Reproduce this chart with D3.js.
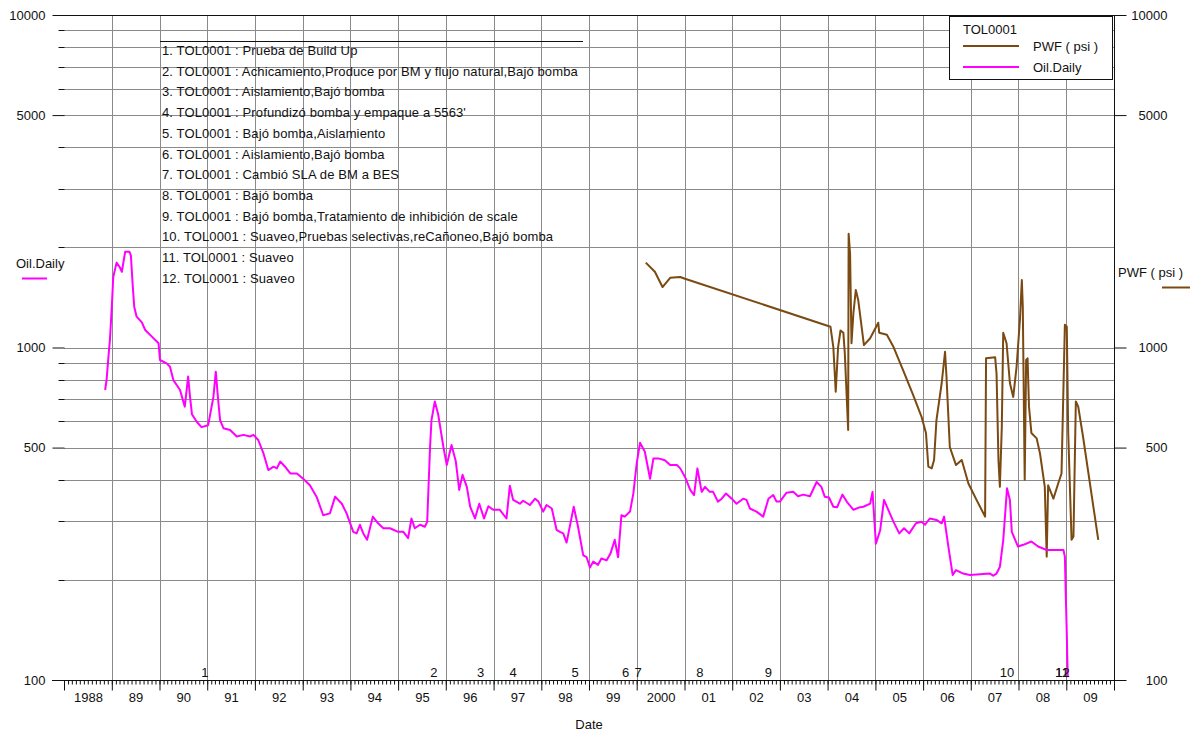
<!DOCTYPE html>
<html>
<head>
<meta charset="utf-8">
<script src="https://cdn.jsdelivr.net/npm/d3@7"></script>
<style>
  body { margin: 0; background: #fff; }
  text { font-family: "Liberation Sans", Arial, sans-serif; font-size: 13px; fill: #111; }
</style>
</head>
<body>
<svg id="chart" width="1198" height="733"></svg>
<script>
// Well TOL0001 - daily oil rate and flowing bottom-hole pressure (decimal years)
const oilDates = [1988.86,1988.89,1988.93,1988.96,1989.00,1989.03,1989.10,1989.17,1989.21,1989.28,1989.37,1989.40,1989.44,1989.47,1989.52,1989.63,1989.70,1989.84,1989.98,
  1990.01,1990.15,1990.22,1990.29,1990.43,1990.53,1990.60,1990.64,1990.68,1990.78,1990.88,1991.02,1991.13,1991.18,1991.23,1991.27,1991.34,1991.48,1991.62,1991.76,1991.90,1991.97,
  1992.07,1992.18,1992.28,1992.39,1992.46,1992.53,1992.63,1992.74,1992.88,1993.01,1993.15,1993.29,1993.43,1993.57,1993.68,1993.82,1993.92,
  1994.06,1994.13,1994.20,1994.27,1994.35,1994.47,1994.58,1994.69,1994.83,1994.90,1995.00,1995.11,1995.21,1995.28,1995.35,1995.46,1995.56,1995.61,
  1995.67,1995.70,1995.77,1995.84,1995.95,1996.02,1996.12,1996.21,1996.28,1996.35,1996.44,1996.51,1996.61,1996.70,1996.80,1996.89,1996.99,
  1997.13,1997.27,1997.34,1997.41,1997.55,1997.62,1997.76,1997.87,1997.94,1998.04,1998.11,1998.22,1998.32,1998.39,1998.46,1998.53,1998.68,1998.77,1998.88,1998.95,
  1999.02,1999.09,1999.19,1999.26,1999.37,1999.45,1999.54,1999.61,1999.68,1999.75,1999.86,1999.93,2000.00,2000.07,2000.17,2000.28,2000.35,2000.45,2000.59,2000.70,2000.84,2000.91,
  2001.01,2001.12,2001.20,2001.27,2001.36,2001.43,2001.53,2001.60,2001.70,2001.78,2001.87,2001.99,2002.09,2002.23,2002.30,2002.37,2002.51,2002.65,2002.76,2002.86,2002.93,
  2003.00,2003.14,2003.28,2003.38,2003.49,2003.63,2003.77,2003.87,2003.94,2004.03,2004.12,2004.20,2004.31,2004.40,2004.54,2004.68,2004.75,2004.89,2004.94,
  2005.01,2005.10,2005.18,2005.27,2005.38,2005.50,2005.60,2005.71,2005.85,2005.97,2006.04,2006.14,2006.28,2006.39,2006.44,2006.53,2006.62,2006.69,2006.84,2006.98,
  2007.40,2007.47,2007.54,2007.61,2007.68,2007.76,2007.82,2007.86,2007.99,2008.10,2008.27,2008.41,2008.59,2008.94,2008.97,2008.99,2009.01,2009.03];
const oilValues = [745,798,940,1053,1327,1630,1800,1740,1690,1940,1940,1890,1520,1327,1238,1190,1129,1078,1030,
  917,896,875,798,745,664,818,710,630,598,576,584,710,846,695,605,572,565,540,546,540,546,
  527,480,428,438,433,454,438,418,418,403,385,356,313,317,356,339,317,
  279,276,293,276,264,310,296,286,286,283,279,279,267,306,286,293,289,299,
  502,605,688,630,502,443,509,454,373,414,381,332,306,339,306,333,325,
  325,306,384,348,339,346,336,351,344,321,336,328,283,279,276,259,332,289,237,234,
  218,227,222,232,229,240,264,234,313,310,321,364,448,517,486,403,464,464,458,443,443,433,
  408,373,360,433,368,381,368,368,344,351,364,351,339,351,348,328,321,310,351,360,344,
  344,366,368,357,361,357,394,381,356,354,332,331,361,344,325,331,332,339,368,
  257,282,348,325,299,276,286,276,296,299,293,306,303,296,310,252,207,214,209,207,
  209,206,209,219,263,377,348,279,252,255,261,252,246,246,235,178,138,102];

const pwfDates = [2000.19,2000.38,2000.54,2000.70,2000.91,2001.01,2004.06,2004.12,2004.17,2004.22,2004.27,2004.33,2004.36,2004.43,2004.44,2004.47,2004.50,2004.54,2004.59,2004.64,2004.76,2004.89,
  2005.06,2005.08,2005.24,2005.38,2005.58,2005.79,2005.97,2006.06,2006.11,2006.18,2006.23,2006.28,2006.39,2006.46,2006.49,2006.56,2006.69,2006.81,2006.95,
  2007.12,2007.30,2007.32,2007.51,2007.54,2007.58,2007.61,2007.65,2007.68,2007.75,2007.82,2007.89,2007.96,2008.03,2008.07,2008.09,2008.13,2008.16,2008.19,2008.22,2008.27,2008.38,2008.45,2008.55,2008.59,2008.62,2008.73,2008.83,2008.90,2008.97,
  2009.01,2009.04,2009.11,2009.15,2009.20,2009.25,2009.35,2009.67];
const pwfValues = [1800,1690,1520,1620,1630,1610,1155,1003,736,1003,1125,1107,961,565,2200,1920,1030,1270,1489,1390,1017,1066,
  1187,1107,1093,1003,855,720,617,553,438,433,459,605,782,971,818,502,443,459,390,
  348,310,928,935,834,459,381,576,1107,1030,782,710,875,1210,1596,1327,400,917,928,664,553,533,480,381,235,385,351,390,418,1170,
  1155,553,264,270,688,664,540,264];

// Well events marked along the time axis
const eventLabels = ["1","2","3","4","5","6","7","8","9","10","11","12"];
const eventDates = [1990.95,1995.75,1996.73,1997.41,1998.71,1999.77,2000.03,2001.32,2002.76,2007.76,2008.91,2008.92];
const eventNotes = [
  "1. TOL0001 : Prueba de Build Up",
  "2. TOL0001 : Achicamiento,Produce por BM y flujo natural,Bajó bomba",
  "3. TOL0001 : Aislamiento,Bajó bomba",
  "4. TOL0001 : Profundizó bomba y empaque a 5563'",
  "5. TOL0001 : Bajó bomba,Aislamiento",
  "6. TOL0001 : Aislamiento,Bajó  bomba",
  "7. TOL0001 : Cambió SLA de BM a BES",
  "8. TOL0001 : Bajó bomba",
  "9. TOL0001 : Bajó bomba,Tratamiento de inhibición de scale",
  "10. TOL0001 : Suaveo,Pruebas selectivas,reCañoneo,Bajó bomba",
  "11. TOL0001 : Suaveo",
  "12. TOL0001 : Suaveo"
];

const yLabelTicks = [100, 500, 1000, 5000, 10000];
const yGridValues = [200,300,400,500,600,700,800,900,1000,2000,3000,4000,5000,6000,7000,8000,9000];
const firstYear = 1988, lastYear = 2010;

const OIL_COLOR = "#ff00ff";
const PWF_COLOR = "#7a4a12";
const GRID_COLOR = "#8a8a8a";

const toDate = t => {
  const yr = Math.floor(t);
  const a = new Date(yr, 0, 1), b = new Date(yr + 1, 0, 1);
  return new Date(+a + (t - yr) * (b - a));
};

const L = 64, R = 1114, T = 15, B = 680;
const svg = d3.select("#chart");

const x = d3.scaleTime().domain([new Date(firstYear, 0, 1), new Date(lastYear, 0, 1)]).range([L, R]);
const y = d3.scaleLog().domain([100, 10000]).range([B, T]);

const yearStarts = d3.timeYear.range(new Date(firstYear, 0, 1), new Date(lastYear, 0, 2));
const yearMids = d3.range(firstYear, lastYear).map(yr => new Date(yr, 6, 2));

// grid
const grid = svg.append("g").attr("stroke", GRID_COLOR).attr("stroke-width", 1);
grid.selectAll("line.v").data(yearStarts.slice(1, -1)).join("line")
  .attr("x1", d => Math.round(x(d)) + 0.5).attr("x2", d => Math.round(x(d)) + 0.5)
  .attr("y1", T).attr("y2", B);
grid.selectAll("line.h").data(yGridValues).join("line")
  .attr("x1", L).attr("x2", R)
  .attr("y1", d => Math.round(y(d)) + 0.5).attr("y2", d => Math.round(y(d)) + 0.5);

// event notes block
const notes = svg.append("g");
notes.append("line").attr("x1", 160).attr("x2", 583).attr("y1", 41.5).attr("y2", 41.5)
  .attr("stroke", "#111").attr("stroke-width", 1);
notes.selectAll("text").data(eventNotes).join("text")
  .attr("x", 162).attr("y", (d, i) => 55 + i * 20.7)
  .style("letter-spacing", "0.12px").text(d => d);

// series lines
const line = d3.line().x(d => x(toDate(d[0]))).y(d => y(d[1]));
svg.append("path").datum(pwfDates.map((d, i) => [d, pwfValues[i]]))
  .attr("d", line).attr("fill", "none").attr("stroke", PWF_COLOR).attr("stroke-width", 2).attr("stroke-linejoin", "round");
svg.append("path").datum(oilDates.map((d, i) => [d, oilValues[i]]))
  .attr("d", line).attr("fill", "none").attr("stroke", OIL_COLOR).attr("stroke-width", 2).attr("stroke-linejoin", "round");

// frame
const frame = svg.append("g").attr("stroke", "#111").attr("stroke-width", 1).attr("fill", "none");
frame.append("line").attr("x1", L).attr("x2", R).attr("y1", T + 0.5).attr("y2", T + 0.5);
frame.append("line").attr("x1", R + 0.5).attr("x2", R + 0.5).attr("y1", T).attr("y2", B);

// left axis: labelled ticks plus minor ticks at every grid line
const yLeft = svg.append("g").attr("transform", `translate(${L + 0.5},0)`)
  .call(d3.axisLeft(y).tickValues(yLabelTicks).tickSize(12).tickPadding(7).tickFormat(d3.format("d")));
yLeft.append("g").selectAll("line").data(yGridValues.filter(v => !yLabelTicks.includes(v))).join("line")
  .attr("x1", -6).attr("x2", 0).attr("y1", d => Math.round(y(d)) + 0.5).attr("y2", d => Math.round(y(d)) + 0.5)
  .attr("stroke", "#111");

// right axis
const yRight = svg.append("g").attr("transform", `translate(${R + 0.5},0)`)
  .call(d3.axisRight(y).tickValues(yLabelTicks).tickSize(12).tickFormat(d3.format("d")));
yRight.selectAll(".tick text").attr("text-anchor", "end").attr("x", 53);

// bottom axis: years, months and centred year labels
const xAxisG = svg.append("g").attr("transform", `translate(0,${B + 0.5})`);
xAxisG.append("g").call(d3.axisBottom(x).ticks(d3.timeMonth.every(1)).tickSize(4).tickFormat(""));
xAxisG.append("g").call(d3.axisBottom(x).tickValues(yearStarts).tickSize(10).tickFormat(""));
xAxisG.append("g").call(d3.axisBottom(x).tickValues(yearMids).tickSize(0).tickPadding(12)
  .tickFormat(d => { const yr = d.getFullYear(); return (yr === 1988 || yr === 2000) ? String(yr) : String(yr % 100).padStart(2, "0"); }));
xAxisG.append("line").attr("x1", L - 12).attr("x2", R + 12).attr("stroke", "#111");

svg.selectAll(".domain").remove();
svg.selectAll(".tick line").attr("stroke", "#111");
svg.selectAll(".tick text").style("font-size", "13px").style("font-family", "'Liberation Sans', Arial, sans-serif").attr("fill", "#111");

// event numbers above the time axis
svg.append("g").selectAll("text").data(eventLabels).join("text")
  .attr("x", (d, i) => x(toDate(eventDates[i]))).attr("y", 677)
  .attr("text-anchor", "middle").text(d => d);

svg.append("text").attr("x", 589).attr("y", 729).attr("text-anchor", "middle").text("Date");

// axis series labels
svg.append("text").attr("x", 16).attr("y", 268).text("Oil.Daily");
svg.append("line").attr("x1", 22).attr("x2", 47).attr("y1", 278.5).attr("y2", 278.5).attr("stroke", OIL_COLOR).attr("stroke-width", 2);
svg.append("text").attr("x", 1118).attr("y", 277).text("PWF ( psi )");
svg.append("line").attr("x1", 1162).attr("x2", 1190).attr("y1", 287.5).attr("y2", 287.5).attr("stroke", PWF_COLOR).attr("stroke-width", 2);

// legend
const lg = svg.append("g");
lg.append("rect").attr("x", 949.5).attr("y", 16.5).attr("width", 163).attr("height", 63)
  .attr("fill", "#fff").attr("stroke", "#111");
lg.append("text").attr("x", 963).attr("y", 34).text("TOL0001");
lg.append("line").attr("x1", 963).attr("x2", 1019).attr("y1", 46).attr("y2", 46).attr("stroke", PWF_COLOR).attr("stroke-width", 2);
lg.append("text").attr("x", 1033).attr("y", 51).text("PWF ( psi )");
lg.append("line").attr("x1", 963).attr("x2", 1019).attr("y1", 67).attr("y2", 67).attr("stroke", OIL_COLOR).attr("stroke-width", 2);
lg.append("text").attr("x", 1033).attr("y", 72).text("Oil.Daily");
</script>
</body>
</html>
